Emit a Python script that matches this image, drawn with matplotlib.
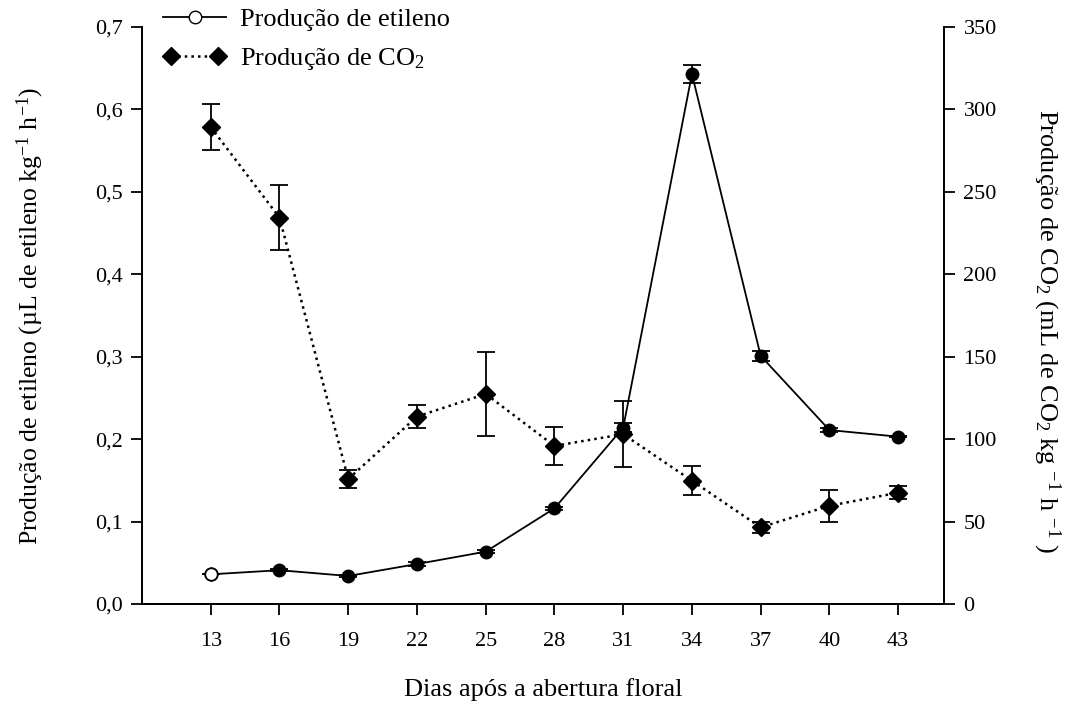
import matplotlib
matplotlib.use("Agg")
import matplotlib.pyplot as plt
from matplotlib.lines import Line2D
from matplotlib.legend_handler import HandlerLine2D
from matplotlib.ticker import FuncFormatter

plt.rcParams['font.family'] = ['Liberation Serif', 'DejaVu Serif']
plt.rcParams['mathtext.fontset'] = 'custom'
plt.rcParams['mathtext.rm'] = 'Liberation Serif'
plt.rcParams['mathtext.it'] = 'Liberation Serif:italic'

# dias apos a abertura floral
dias = [13, 16, 19, 22, 25, 28, 31, 34, 37, 40, 43]

# etileno (uL kg-1 h-1)
etileno = [0.036, 0.041, 0.034, 0.0485, 0.0635, 0.116, 0.214, 0.643, 0.301, 0.211, 0.203]
etileno_err = [0.0, 0.001, 0.001, 0.002, 0.002, 0.002, 0.005, 0.011, 0.006, 0.002, 0.001]

# CO2 (mL kg-1 h-1)
co2 = [289.3, 234.4, 75.8, 113.7, 127.4, 95.9, 103.0, 74.8, 46.5, 59.6, 67.5]
co2_err = [13.7, 19.7, 5.6, 7.2, 25.2, 11.6, 20.2, 8.8, 3.3, 9.8, 3.9]

W, H = 1089, 704
fig = plt.figure(figsize=(W / 100, H / 100), dpi=100)
ax = fig.add_axes([142 / W, 1 - 604 / H, 802 / W, 577 / H])
ax2 = ax.twinx()

# etileno: primeiro ponto aberto, demais cheios
ax.errorbar(dias, etileno, yerr=etileno_err, color='black', lw=1.3,
            elinewidth=1.3, capsize=6.5, capthick=1.3, marker='o',
            ms=9, mfc='black', mec='black', zorder=3)
ax.plot(dias[0], etileno[0], 'o', ms=9, mfc='white', mec='black', mew=1.3, zorder=4)

ax2.errorbar(dias, co2, yerr=co2_err, color='black', ls=':', lw=1.8,
             elinewidth=1.3, capsize=6.5, capthick=1.3, marker='D',
             ms=9.5, mfc='black', mec='black')

ax.set_xlim(10, 45)
ax.set_ylim(0, 0.7)
ax2.set_ylim(0, 350)
ax.set_xticks(dias)
ax.set_yticks([i / 10 for i in range(8)])
ax2.set_yticks(range(0, 351, 50))
ax.yaxis.set_major_formatter(FuncFormatter(lambda v, p: ('%.1f' % v).replace('.', ',')))

for a in (ax, ax2):
    a.spines['top'].set_visible(False)
    for s in a.spines.values():
        s.set_linewidth(1.3)
    a.tick_params(direction='out', length=8, width=1.3, labelsize=16, pad=6)
ax.tick_params(axis='x', pad=12)

# rotulos dos eixos
fig.text(543 / W, 1 - 690 / H, 'Dias após a abertura floral', fontsize=19,
         ha='center', va='center')
fig.text(30 / W, 1 - 316 / H, 'Produção de etileno (µL de etileno kg$^{-1}$ h$^{-1}$)',
         fontsize=18.5, rotation=90, ha='center', va='center')
fig.text(1047 / W, 1 - 331 / H, 'Produção de CO$_2$ (mL de CO$_2$ kg $^{-1}$ h $^{-1}$ )',
         fontsize=19, rotation=270, ha='center', va='center')

h1 = Line2D([], [], color='black', lw=1.3, marker='o', ms=9, mfc='white', mec='black')
h2 = Line2D([], [], color='black', lw=1.8, ls=':', marker='D', ms=9.5, mfc='black')
fig.legend([h1, h2], ['Produção de etileno', 'Produção de CO$_2$'],
           handler_map={h1: HandlerLine2D(numpoints=1), h2: HandlerLine2D(numpoints=2)},
           loc='upper left', bbox_to_anchor=(163 / W, 1 - 8 / H), frameon=False,
           borderpad=0, borderaxespad=0, fontsize=19, handlelength=2.4,
           handletextpad=0.5, labelspacing=0.55)

fig.savefig('out.png', dpi=100)
